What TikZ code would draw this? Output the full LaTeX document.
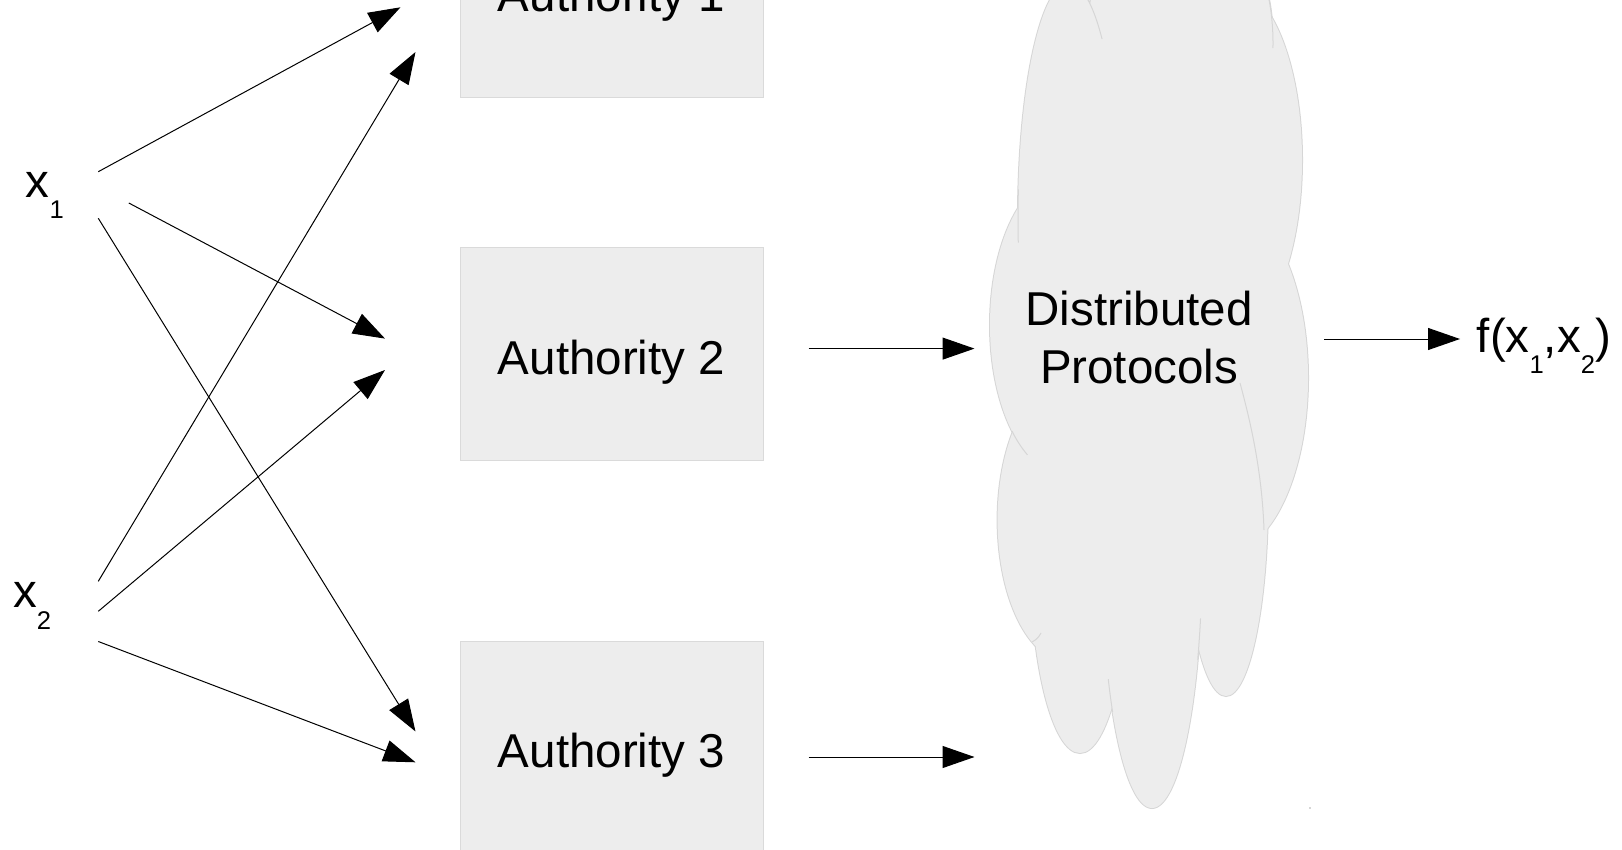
\documentclass[tikz,border=0pt]{standalone}
\usepackage{fontspec}
\setmainfont{Liberation Sans}
\usetikzlibrary{arrows.meta}
\definecolor{boxfill}{HTML}{EDEDED}
\definecolor{boxline}{HTML}{DADADA}
\definecolor{cloudfill}{HTML}{EDEDED}
\definecolor{cloudline}{HTML}{D6D6D6}
\newcommand\bigfont{\fontsize{23.75pt}{28.85pt}\selectfont}
\newcommand\mysub[1]{\raisebox{-10.65pt}{\fontsize{12.8pt}{14pt}\selectfont #1}}
\begin{document}
\begin{tikzpicture}[x=0.5pt,y=-0.5pt,
  authbox/.style={draw=boxline, fill=boxfill, line width=0.5pt,
    minimum width=151.5pt, minimum height=106pt, inner sep=0pt,
    font=\bigfont, text height=20.3pt, text depth=0pt},
  lbl/.style={font=\bigfont, inner sep=0pt, anchor=base west},
  arr/.style={-{Triangle[length=16pt,width=11pt]}, line width=0.5pt, black},
  inner/.style={draw=cloudline, line width=0.5pt}]
\useasboundingbox (0,0) rectangle (1622,850);
\clip (0,0) rectangle (1622,850);

% authority boxes
\node[authbox] (a1) at (611.5,-8.8) {Authority 1};
\node[authbox] (a2) at (611.5,354) {Authority 2};
\node[authbox] (a3) at (611.5,747) {Authority 3};

% inputs and output labels
\node[lbl] (x1) at (25.5,197.7) {x\mysub{1}};
\node[lbl] (x2) at (12.8,607.7) {x\mysub{2}};
\node[lbl] (fx) at (1476.5,352) {f(x\mysub{1},x\mysub{2})};

% cloud
\foreach \cx/\cy/\rx/\ry in {1069/218/51/235, 1065/325/75/150, 1067.6/520/70/141.7,
    1080/553/50/200, 1152/558/50/250, 1226/496/42/200, 1225/378/83/175,
    1230/160/72/175, 1180/43/93/150, 1140/330/105/290}
  \draw[cloudline, line width=1pt] (\cx,\cy) ellipse [x radius=\rx, y radius=\ry];
\foreach \cx/\cy/\rx/\ry in {1069/218/51/235, 1065/325/75/150, 1067.6/520/70/141.7,
    1080/553/50/200, 1152/558/50/250, 1226/496/42/200, 1225/378/83/175,
    1230/160/72/175, 1180/43/93/150, 1140/330/105/290}
  \fill[cloudfill] (\cx,\cy) ellipse [x radius=\rx, y radius=\ry];
% internal arcs of the cloud
\draw[inner] (1069,218) ++(-72:51 and 235) arc[start angle=-72, end angle=-49.6, x radius=51, y radius=235];
\draw[inner] (1069,218) ++(187:51 and 235) arc[start angle=187, end angle=174, x radius=51, y radius=235];
\draw[inner] (1180,43) ++(-20:93 and 150) arc[start angle=-20, end angle=2, x radius=93, y radius=150];
\draw[inner] (1240,383) .. controls (1250,420) and (1262,470) .. (1264,530);
\draw[inner] (1065,325) ++(135:75 and 150) arc[start angle=135, end angle=120, x radius=75, y radius=150];
\draw[inner] (1032,642) .. controls (1036,640) and (1039,637) .. (1041,633);
\draw[inner] (1152,558) ++(151:50 and 250) arc[start angle=151, end angle=142, x radius=50, y radius=250];
\draw[inner] (1152,558) ++(14:50 and 250) arc[start angle=14, end angle=24, x radius=50, y radius=250];
\fill[cloudline] (1309,807) rectangle (1311,809);

\node[font=\bigfont, align=center, inner sep=0pt] (cloud) at (1139,337.5) {Distributed\\Protocols};

% connector end points
\coordinate (x1a) at (98.3,171.7);  \coordinate (t1a) at (400.5,7.3);
\coordinate (x1b) at (128.8,203);   \coordinate (t2a) at (385,338.6);
\coordinate (x1c) at (98.3,218.3);  \coordinate (t3a) at (415.5,731.5);
\coordinate (x2a) at (98.3,581.3);  \coordinate (t1b) at (415.5,52);
\coordinate (x2b) at (98.3,611.3);  \coordinate (t2b) at (385,370);
\coordinate (x2c) at (98.3,641.5);  \coordinate (t3b) at (415.5,762.3);
\coordinate (a2o) at (808.5,348.6); \coordinate (c2i) at (974.5,348.6);
\coordinate (a3o) at (808.5,757);   \coordinate (c3i) at (974.5,757);
\coordinate (co) at (1324,339);     \coordinate (fi) at (1460,339);

\draw[arr] (x1a) -- (t1a);
\draw[arr] (x1b) -- (t2a);
\draw[arr] (x1c) -- (t3a);
\draw[arr] (x2a) -- (t1b);
\draw[arr] (x2b) -- (t2b);
\draw[arr] (x2c) -- (t3b);
\draw[arr] (a2o) -- (c2i);
\draw[arr] (a3o) -- (c3i);
\draw[arr] (co) -- (fi);
\end{tikzpicture}
\end{document}
